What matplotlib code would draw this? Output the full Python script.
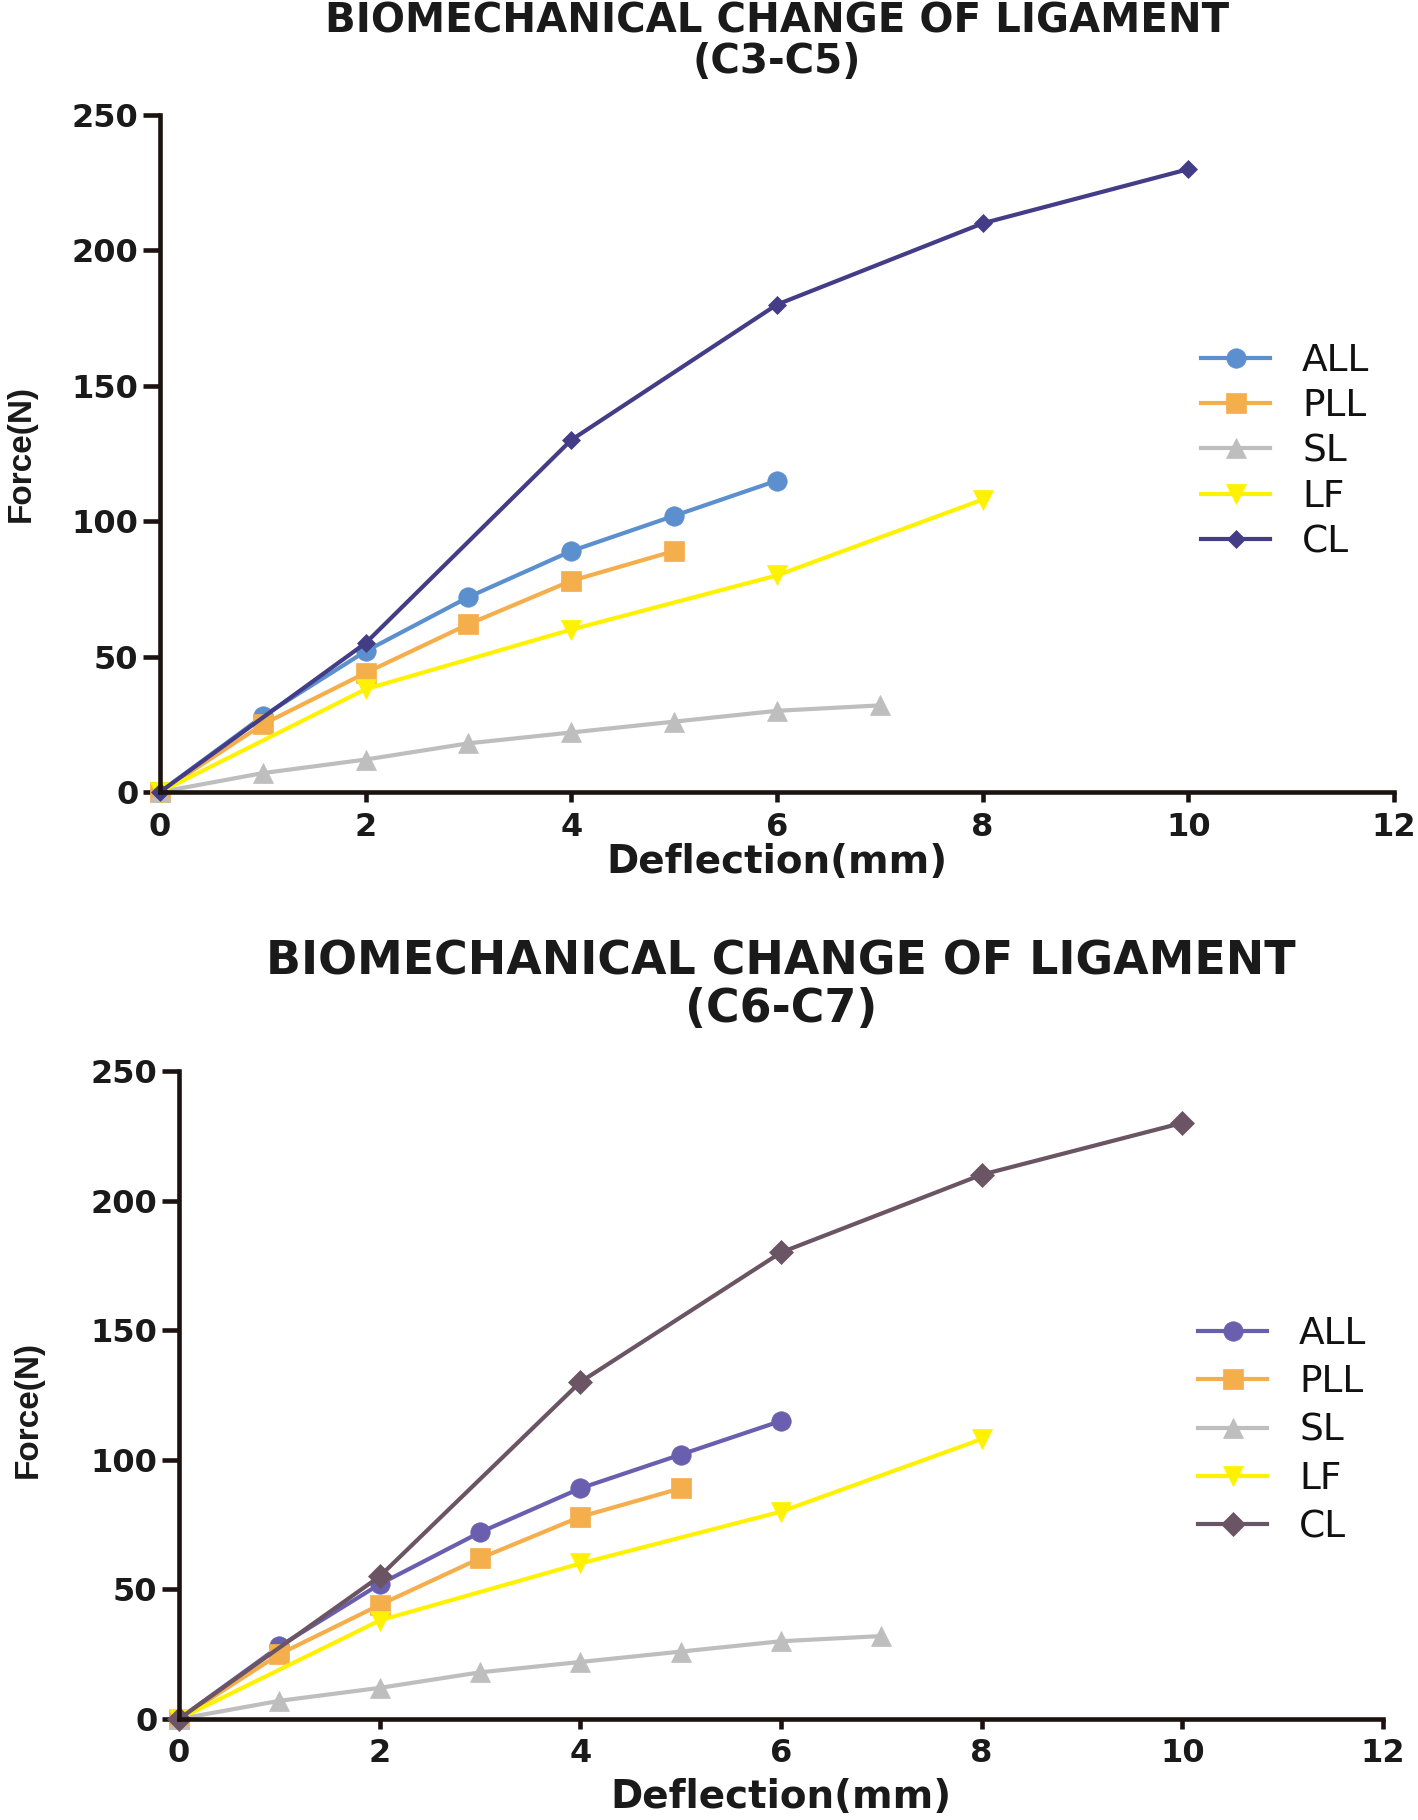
import matplotlib
matplotlib.use("Agg")
from matplotlib import pyplot as plt

# ligament force vs deflection (same data in both panels)
x_all = [0, 1, 2, 3, 4, 5, 6]
y_all = [0, 28, 52, 72, 89, 102, 115]
x_pll = [0, 1, 2, 3, 4, 5]
y_pll = [0, 25, 44, 62, 78, 89]
x_sl = [0, 1, 2, 3, 4, 5, 6, 7]
y_sl = [0, 7, 12, 18, 22, 26, 30, 32]
x_lf = [0, 2, 4, 6, 8]
y_lf = [0, 38, 60, 80, 108]
x_cl = [0, 2, 4, 6, 8, 10]
y_cl = [0, 55, 130, 180, 210, 230]

labels = ["ALL", "PLL", "SL", "LF", "CL"]
xticks = [0, 2, 4, 6, 8, 10, 12]
yticks = [0, 50, 100, 150, 200, 250]

AXCOL = "#1c1210"
BOLD = "DejaVu Sans"


def draw_panel(ax, title_y, title, colors, cl_size, leg_pos, leg_space, title_size,
               xlab_y, ylab_x, ylab_y):
    series = [(x_all, y_all, "o", 14), (x_pll, y_pll, "s", 14), (x_sl, y_sl, "^", 15),
              (x_lf, y_lf, "v", 15), (x_cl, y_cl, "D", cl_size)]
    for (xs, ys, m, ms), c, lab in zip(series, colors, labels):
        ax.plot(xs, ys, color=c, marker=m, markersize=ms, markeredgecolor=c,
                markeredgewidth=0.5, linewidth=3, label=lab, clip_on=False)

    ax.set_xlim(0, 12)
    ax.set_ylim(0, 250)
    ax.set_xticks(xticks)
    ax.set_yticks(yticks)
    for s in ["top", "right"]:
        ax.spines[s].set_visible(False)
    for s in ["left", "bottom"]:
        ax.spines[s].set_linewidth(3.3)
        ax.spines[s].set_color(AXCOL)
    ax.tick_params(axis="y", length=12, width=3.3, pad=3.5, color=AXCOL)
    ax.tick_params(axis="x", length=7, width=3.3, pad=7, color=AXCOL)
    for t in ax.get_xticklabels() + ax.get_yticklabels():
        t.set_fontfamily(BOLD)
        t.set_fontweight("bold")
        t.set_fontsize(23)
        t.set_color("#1a1a1a")

    ax.set_xlabel("Deflection(mm)", fontsize=28, fontweight="bold", family=BOLD,
                  color="#1a1a1a", va="center")
    ax.xaxis.set_label_coords(0.5, xlab_y)
    ax.set_ylabel("Force(N)", fontsize=24, fontweight="bold", family="Liberation Sans",
                  color="#1a1a1a", va="center", ha="center")
    ax.yaxis.set_label_coords(ylab_x, ylab_y)

    leg = ax.legend(loc="center left", bbox_to_anchor=leg_pos, frameon=False,
                    fontsize=27, borderaxespad=0, borderpad=0, handlelength=1.85,
                    handletextpad=0.85, labelspacing=leg_space)
    for t in leg.get_texts():
        t.set_color("#111111")

    pos = ax.get_position()
    cx = (pos.x0 + pos.x1) / 2
    fig.text(cx, title_y[0], "BIOMECHANICAL CHANGE OF LIGAMENT", ha="center", va="baseline",
             fontsize=title_size, fontweight="bold", family=BOLD, color="#1a1a1a")
    fig.text(cx, title_y[1], title, ha="center", va="baseline",
             fontsize=title_size, fontweight="bold", family=BOLD, color="#1a1a1a")


fig = plt.figure(figsize=(14.18, 18.2), dpi=100)

ax1 = fig.add_axes([0.1128, 0.5648, 0.8702, 0.3720])
draw_panel(ax1, (0.9819, 0.9599), "(C3-C5)",
           ["#5b8fcd", "#f5ae4c", "#bebebe", "#fff200", "#433c87"], 9,
           (0.8436, 0.503), 0.25, 29, -0.103, -0.1126, 0.5)

ax2 = fig.add_axes([0.1262, 0.0555, 0.8491, 0.3560])
draw_panel(ax2, (0.4643, 0.4385), "(C6-C7)",
           ["#6a5fae", "#f5ae4c", "#bebebe", "#fff200", "#6b5463"], 12,
           (0.8463, 0.445), 0.33, 33, -0.120, -0.1254, 0.477)

fig.savefig("out.png", dpi=100, facecolor="white")
